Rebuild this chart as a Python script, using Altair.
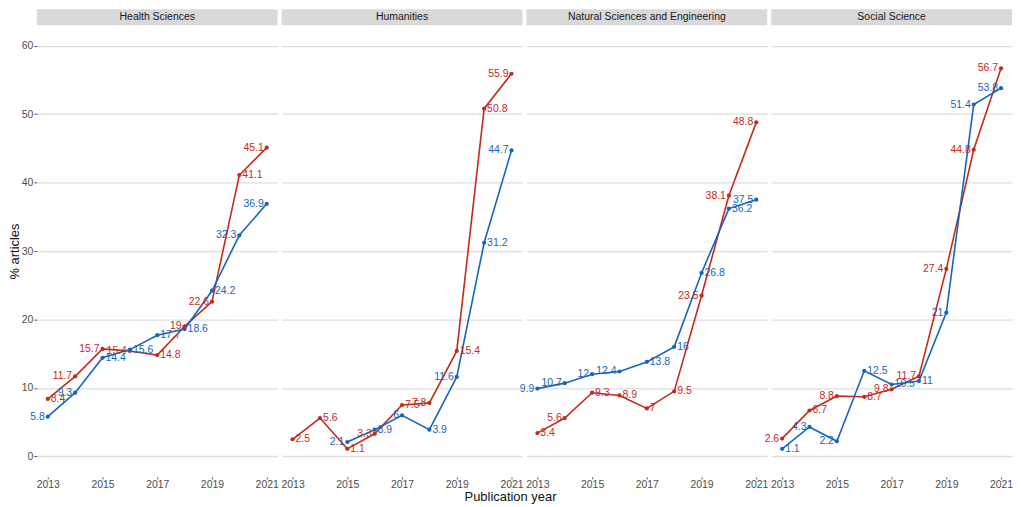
import altair as alt
import pandas as pd

years = [2013, 2014, 2015, 2016, 2017, 2018, 2019, 2020, 2021]
fields = ["Health Sciences", "Humanities", "Natural Sciences and Engineering", "Social Science"]
series = ["Red", "Blue"]

red_health = [8.4, 11.7, 15.7, 15.4, 14.8, 19, 22.6, 41.1, 45.1]
blue_health = [5.8, 9.3, 14.4, 15.6, 17.7, 18.6, 24.2, 32.3, 36.9]
red_hum = [2.5, 5.6, 1.1, 3.3, 7.5, 7.8, 15.4, 50.8, 55.9]
blue_hum = [None, None, 2.1, 3.9, 6, 3.9, 11.6, 31.2, 44.7]
red_nat = [3.4, 5.6, 9.3, 8.9, 7, 9.5, 23.5, 38.1, 48.8]
blue_nat = [9.9, 10.7, 12, 12.4, 13.8, 16, 26.8, 36.2, 37.5]
red_soc = [2.6, 6.7, 8.8, 8.7, 9.8, 11.7, 27.4, 44.8, 56.7]
blue_soc = [1.1, 4.3, 2.2, 12.5, 10.5, 11, 21, 51.4, 53.8]

# which side of its point each value label sits on (L = left, R = right)
red_health_side = ["R", "L", "L", "L", "R", "L", "L", "R", "L"]
blue_health_side = ["L", "L", "R", "R", "R", "R", "R", "L", "L"]
red_hum_side = ["R", "R", "R", "L", "R", "L", "R", "R", "L"]
blue_hum_side = ["L", "L", "L", "R", "L", "R", "L", "R", "L"]
red_nat_side = ["R", "L", "R", "R", "R", "R", "L", "L", "L"]
blue_nat_side = ["L", "L", "L", "L", "R", "R", "R", "R", "L"]
red_soc_side = ["L", "R", "L", "R", "L", "L", "L", "L", "L"]
blue_soc_side = ["R", "L", "L", "R", "R", "R", "L", "L", "L"]

values = {
    fields[0]: (red_health, blue_health, red_health_side, blue_health_side),
    fields[1]: (red_hum, blue_hum, red_hum_side, blue_hum_side),
    fields[2]: (red_nat, blue_nat, red_nat_side, blue_nat_side),
    fields[3]: (red_soc, blue_soc, red_soc_side, blue_soc_side),
}

rows = []
for f in fields:
    r, b, rs, bs = values[f]
    for s, vals, sides in (("Red", r, rs), ("Blue", b, bs)):
        for yr, v, sd in zip(years, vals, sides):
            if v is None:
                continue
            rows.append({"field": f, "series": s, "year": yr, "pct": v,
                         "label": f"{v:g}", "side": sd})
df = pd.DataFrame(rows)

LINE_COLORS = ["#C42A1C", "#1565BE"]
TEXT_COLORS = ["#D2473A", "#2F84CF"]
FONT = "Liberation Sans"
W = 242
H = 454


def panel(field, first):
    d = df[df["field"] == field]
    base = alt.Chart(d)
    x = alt.X("year:Q",
              scale=alt.Scale(domain=[2012.6, 2021.4], nice=False, zero=False),
              axis=alt.Axis(values=[2013, 2015, 2017, 2019, 2021], format="d",
                            grid=False, domain=False, tickSize=2, tickColor="#555555",
                            labelPadding=1, labelFontSize=10.5, labelColor="#4D4D4D",
                            labelFont=FONT),
              title=None)
    if first:
        yaxis = alt.Axis(values=[0, 10, 20, 30, 40, 50, 60], grid=True, domain=False,
                         tickSize=3, tickColor="#555555", labelPadding=1,
                         labelFontSize=10.5, labelColor="#4D4D4D", labelFont=FONT,
                         title="% articles", titleFontSize=13, titleFont=FONT,
                         titleFontWeight="normal", titleColor="#111111", titlePadding=0)
    else:
        yaxis = alt.Axis(values=[0, 10, 20, 30, 40, 50, 60], grid=True, domain=False,
                         ticks=False, labels=False, title=None)
    y = alt.Y("pct:Q", scale=alt.Scale(domain=[-3, 63], nice=False, zero=False),
              axis=yaxis)
    col = alt.Color("series:N", scale=alt.Scale(domain=series, range=LINE_COLORS),
                    legend=None)
    tcol = alt.Color("series:N", scale=alt.Scale(domain=series, range=TEXT_COLORS),
                     legend=None)

    line = base.mark_line(strokeWidth=1.6).encode(x=x, y=y, color=col,
                                                   order="year:Q")
    pts = base.mark_circle(size=18, opacity=1).encode(x=x, y=y, color=col)
    txt_r = base.transform_filter(alt.datum.side == "R").mark_text(
        align="left", baseline="middle", dx=3, fontSize=10.5, font=FONT
    ).encode(x=x, y=y, text="label:N", color=tcol)
    txt_l = base.transform_filter(alt.datum.side == "L").mark_text(
        align="right", baseline="middle", dx=-3, fontSize=10.5, font=FONT
    ).encode(x=x, y=y, text="label:N", color=tcol)

    strip_df = pd.DataFrame({"name": [field]})
    strip = alt.Chart(strip_df).mark_rect(color="#D9D9D9").encode(
        x=alt.value(0), x2=alt.value(W), y=alt.value(-16), y2=alt.value(0))
    strip_txt = alt.Chart(strip_df).mark_text(
        fontSize=10.5, font=FONT, color="#1A1A1A", baseline="middle"
    ).encode(x=alt.value(W / 2), y=alt.value(-8), text="name:N")

    return alt.layer(line, pts, txt_r, txt_l, strip, strip_txt).properties(
        width=W, height=H)


chart = alt.hconcat(
    *[panel(f, i == 0) for i, f in enumerate(fields)],
    spacing=4,
    bounds="flush",
).properties(
    padding=0,
    title=alt.TitleParams("Publication year", orient="bottom", anchor="middle",
                          fontSize=13, font=FONT, fontWeight="normal",
                          color="#111111", offset=1),
).configure_view(
    stroke=None
).configure_axis(
    gridColor="#DEDEDE", gridWidth=1.3
)

chart.save("out.html", embed_options={"renderer": "svg", "actions": False})
